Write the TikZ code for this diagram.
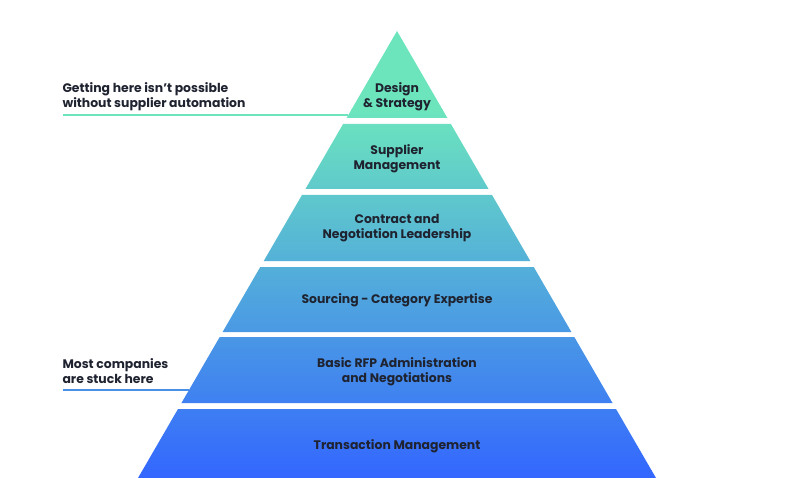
\documentclass[tikz,border=0pt]{standalone}
\usepackage{fontspec}
\setmainfont{Poppins}
\usetikzlibrary{calc}

\definecolor{tipgreen}{HTML}{6CE5BD}
\definecolor{midteal}{HTML}{55B8D6}
\definecolor{baseblue}{HTML}{3366FF}
\definecolor{lineblue}{HTML}{4A8FE6}
\definecolor{inkdark}{HTML}{1F2330}

\tikzset{
    layertext/.style={text=inkdark,font=\fontsize{12.4}{15}\selectfont\bfseries,align=center},
    sidetext/.style={text=inkdark,font=\fontsize{12.4}{15}\selectfont\bfseries,align=left,anchor=west},
    sideline/.style={line width=2.5pt}
}

\begin{document}
\begin{tikzpicture}[x=1pt,y=-1pt]
    \useasboundingbox (0,0) rectangle (794,478);
    % pyramid layers: top y / bottom y
    \begin{scope}
        \clip \foreach \yt/\yb in {31/118,124/189,195/261,267/332,337/403,409/478}{
            ({397-(\yt-31)*0.5794},\yt) -- ({397+(\yt-31)*0.5794},\yt)
            -- ({397+(\yb-31)*0.5794},\yb) -- ({397-(\yb-31)*0.5794},\yb) -- cycle};
        \fill[tipgreen] (130,20) rectangle (670,110);
        \shade[top color=tipgreen,middle color=midteal,bottom color=baseblue]
            (130,110) rectangle (670,479);
    \end{scope}
    \node[layertext] (design) at (397,97) {Design\\\& Strategy};
    \node[layertext] (supplier) at (397,159) {Supplier\\Management};
    \node[layertext] (contract) at (397,228) {Contract and\\Negotiation Leadership};
    \node[layertext] (sourcing) at (397,300.5) {Sourcing - Category Expertise};
    \node[layertext] (basic) at (397,371.5) {Basic RFP Administration\\and Negotiations};
    \node[layertext] (transaction) at (397,446.5) {Transaction Management};
    % side notes
    \node[sidetext] (gettinghere) at (59,97) {Getting here isn’t possible\\without supplier automation};
    \node[sidetext] (stuckhere) at (59,371) {Most companies\\are stuck here};
    \coordinate (topstart) at (63,115);
    \coordinate (topend) at ({397-84*0.5794},115);
    \coordinate (lowstart) at (63,390);
    \coordinate (lowend) at ({397-359*0.5794},390);
    \draw[sideline,tipgreen] (topstart) -- (topend);
    \draw[sideline,lineblue] (lowstart) -- (lowend);
\end{tikzpicture}
\end{document}
